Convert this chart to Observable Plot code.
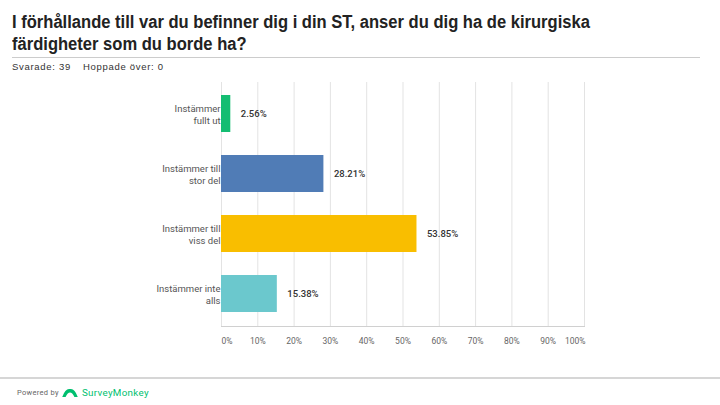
<!DOCTYPE html>
<html>
<head>
<meta charset="utf-8">
<script src="https://cdn.jsdelivr.net/npm/d3@7"></script>
<script src="https://cdn.jsdelivr.net/npm/@observablehq/plot@0.6"></script>
<style>
  html, body { margin: 0; padding: 0; background: #fff; width: 720px; height: 405px; overflow: hidden; position: relative; font-family: "Liberation Sans", Arial, sans-serif; }
  #title { position: absolute; left: 12px; top: 11px; width: 900px; font-weight: bold; font-size: 18px; line-height: 22px; color: #222; transform: scaleX(0.92); transform-origin: left top; }
  #sep { position: absolute; left: 12px; top: 57px; width: 688px; height: 1px; background: #ccc; }
  #sub { position: absolute; left: 12px; top: 61px; font-family: "Liberation Sans", Arial, sans-serif; font-size: 9.5px; letter-spacing: 0.7px; color: #333; }
  #sub span { margin-right: 12px; }
  #chart { position: absolute; left: 0; top: 75px; }
  #foot { position: absolute; left: 0; top: 377px; width: 720px; height: 2px; background: #d6d6d6; }
  #powered { position: absolute; left: 17px; top: 387px; font-family: Roboto, sans-serif; font-size: 7.5px; letter-spacing: 0.3px; color: #666; display: flex; align-items: center; }
  #powered .sm { color: #00bf6f; font-size: 9.8px; margin-left: 3px; }
</style>
</head>
<body>
<div id="title">I förhållande till var du befinner dig i din ST, anser du dig ha de kirurgiska<br>färdigheter som du borde ha?</div>
<div id="sep"></div>
<div id="sub"><span>Svarade: 39</span><span>Hoppade över: 0</span></div>
<div id="chart"></div>
<div id="foot"></div>
<div id="powered">Powered by&nbsp;<svg width="18" height="10" viewBox="0 0 16 9"><path d="M1 8 Q4 0 8 1 Q12 0 15 8 L12 8 Q10 4 8 4 Q6 4 4 8 Z" fill="#00bf6f"/></svg><span class="sm">SurveyMonkey</span></div>
<script>
const categories = ["Instämmer fullt ut", "Instämmer till stor del", "Instämmer till viss del", "Instämmer inte alls"];
const axisLabels = ["Instämmer\nfullt ut", "Instämmer till\nstor del", "Instämmer till\nviss del", "Instämmer inte\nalls"];
const values = [2.56, 28.21, 53.85, 15.38];
const colors = ["#14bd72", "#507cb6", "#f9be00", "#6bc8cd"];
const xTicks = [0, 10, 20, 30, 40, 50, 60, 70, 80, 90, 100];

const data = categories.map((c, i) => ({cat: c, value: values[i]}));
const labelOf = new Map(categories.map((c, i) => [c, axisLabels[i]]));

const chart = Plot.plot({
  width: 720,
  height: 280,
  marginLeft: 221,
  marginRight: 136,
  marginTop: 7,
  marginBottom: 29,
  style: {fontFamily: "Roboto, sans-serif", background: "transparent"},
  x: {domain: [0, 100], label: null},
  y: {domain: categories, paddingInner: 0.377, paddingOuter: 0.19, label: null},
  color: {domain: categories, range: colors},
  marks: [
    Plot.gridX(xTicks, {stroke: "#e3e3e3", strokeOpacity: 1}),
    Plot.frame({anchor: "bottom", stroke: "#d0d0d0"}),
    Plot.barX(data, {x: "value", y: "cat", fill: "cat"}),
    Plot.text(data, {x: "value", y: "cat", text: d => d.value.toFixed(2) + "%", dx: 10, textAnchor: "start", fontSize: 9.5, fontWeight: 500, fill: "#333"}),
    Plot.axisX([0], {tickSize: 0, tickPadding: 11, tickFormat: d => d + "%", textAnchor: "start", fontSize: 8.5, fill: "#666", label: null}),
    Plot.axisX(xTicks.slice(1, -1), {tickSize: 0, tickPadding: 11, tickFormat: d => d + "%", fontSize: 8.5, fill: "#666", label: null}),
    Plot.axisX([100], {tickSize: 0, tickPadding: 11, tickFormat: d => d + "%", textAnchor: "end", fontSize: 8.5, fill: "#666", dx: 1, label: null}),
    Plot.axisY({tickSize: 0, tickPadding: 1, tickFormat: d => labelOf.get(d), fontSize: 9.5, lineHeight: 1.3, fill: "#555", label: null})
  ]
});
document.getElementById("chart").appendChild(chart);
</script>
</body>
</html>
